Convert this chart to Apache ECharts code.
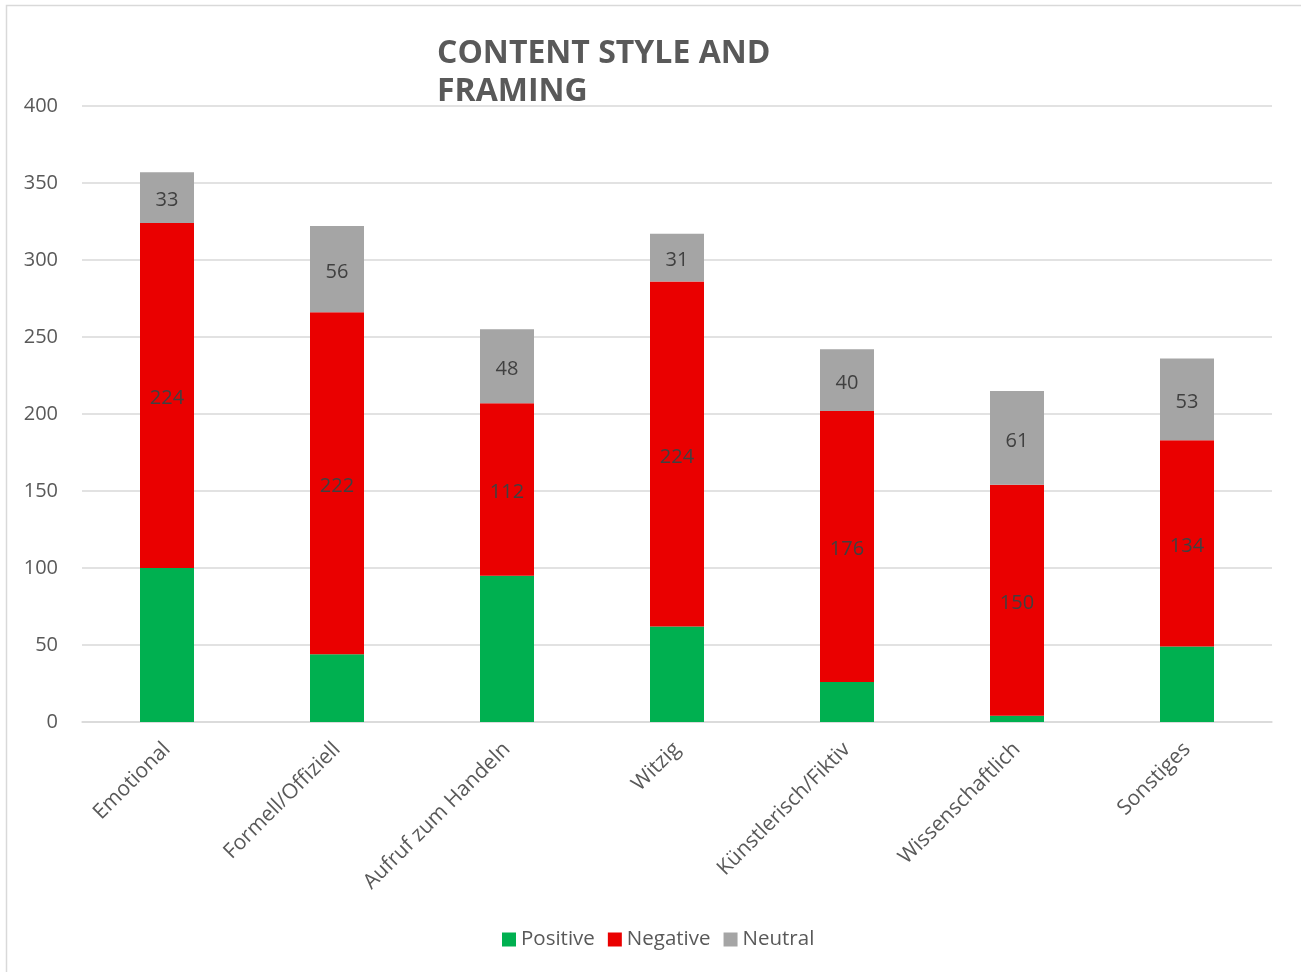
<!DOCTYPE html>
<html>
<head>
<meta charset="utf-8">
<script src="https://cdn.jsdelivr.net/npm/echarts@6/dist/echarts.min.js"></script>
<style>
html,body{margin:0;padding:0;background:#fff;}
#chart{width:1301px;height:972px;}
</style>
</head>
<body>
<div id="chart"></div>
<script>
var categories = ['Emotional','Formell/Offiziell','Aufruf zum Handeln','Witzig','Künstlerisch/Fiktiv','Wissenschaftlich','Sonstiges'];
var positive = [100, 44, 95, 62, 26, 4, 49];
var negative = [224, 222, 112, 224, 176, 150, 134];
var neutral = [33, 56, 48, 31, 40, 61, 53];
var yTicks = [0, 50, 100, 150, 200, 250, 300, 350, 400];

var FONT = '"Open Sans", "Noto Sans", sans-serif';
var chart = echarts.init(document.getElementById('chart'), null, {renderer: 'canvas'});
var labelStyle = {show: true, position: 'inside', offset: [0, 3], fontFamily: FONT, fontSize: 20, color: '#404040'};
chart.setOption({
  backgroundColor: '#ffffff',
  animation: false,
  graphic: [{
    type: 'rect', shape: {x: 6.5, y: 5.5, width: 1400, height: 1100},
    style: {fill: 'none', stroke: '#d9d9d9', lineWidth: 1.5}, silent: true
  }],
  title: {
    text: 'CONTENT STYLE AND\nFRAMING',
    left: 437, top: 35, padding: 0,
    textStyle: {fontFamily: FONT, fontWeight: 'bold', fontSize: 32, color: '#595959', lineHeight: 38}
  },
  legend: {
    bottom: 22, left: 502,
    itemWidth: 14, itemHeight: 14, itemGap: 13,
    icon: 'rect', padding: 0,
    textStyle: {fontFamily: FONT, fontSize: 20.5, color: '#595959', padding: [0,0,0,0]},
    data: ['Positive','Negative','Neutral']
  },
  grid: {left: 82, right: 29, top: 106, bottom: 250, containLabel: false},
  xAxis: {
    type: 'category', data: categories,
    axisLine: {show: true, lineStyle: {color: '#d9d9d9', width: 1.5}},
    axisTick: {show: false},
    axisLabel: {rotate: 45, interval: 0, margin: 24, fontFamily: FONT, fontSize: 21, color: '#595959'}
  },
  yAxis: {
    type: 'value', min: yTicks[0], max: yTicks[yTicks.length-1], interval: 50,
    axisLine: {show: false}, axisTick: {show: false},
    splitLine: {lineStyle: {color: '#d9d9d9', width: 1.5}},
    axisLabel: {margin: 24, fontFamily: FONT, fontSize: 20, color: '#595959'}
  },
  series: [
    {name: 'Positive', type: 'bar', stack: 's', data: positive, barWidth: 54, itemStyle: {color: '#00b050'}},
    {name: 'Negative', type: 'bar', stack: 's', data: negative, barWidth: 54, itemStyle: {color: '#ea0000'}, label: labelStyle},
    {name: 'Neutral', type: 'bar', stack: 's', data: neutral, barWidth: 54, itemStyle: {color: '#a5a5a5'}, label: labelStyle}
  ]
});
</script>
</body>
</html>
